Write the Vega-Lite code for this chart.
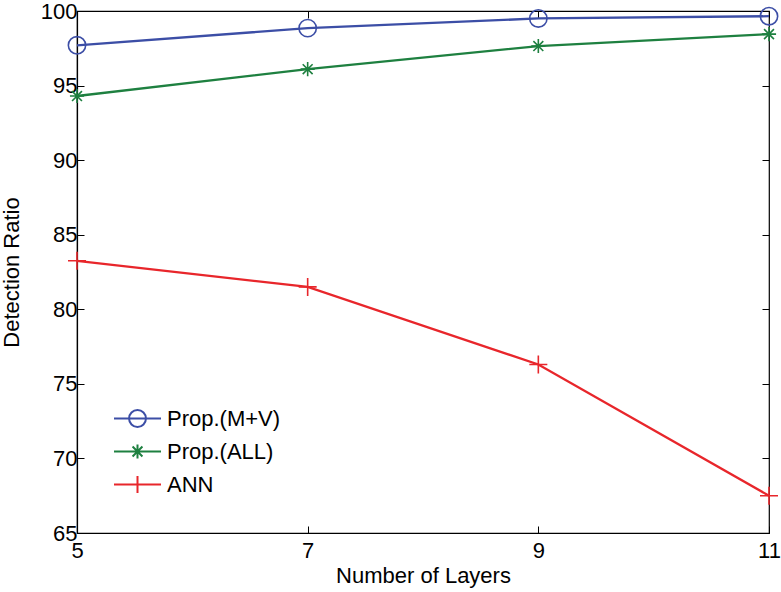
{
  "$schema": "https://vega.github.io/schema/vega-lite/v6.json",
  "autosize": "none",
  "width": 692,
  "height": 522,
  "padding": {"left": 77, "top": 11, "right": 12, "bottom": 59},
  "background": "white",
  "config": {
    "font": "Liberation Sans",
    "view": {"stroke": "black", "strokeWidth": 1.2}
  },
  "data": {"values": [
    {"layers": 5, "ratio": 97.7, "method": "Prop.(M+V)"},
    {"layers": 7, "ratio": 98.85, "method": "Prop.(M+V)"},
    {"layers": 9, "ratio": 99.5, "method": "Prop.(M+V)"},
    {"layers": 11, "ratio": 99.65, "method": "Prop.(M+V)"},
    {"layers": 5, "ratio": 94.3, "method": "Prop.(ALL)"},
    {"layers": 7, "ratio": 96.1, "method": "Prop.(ALL)"},
    {"layers": 9, "ratio": 97.65, "method": "Prop.(ALL)"},
    {"layers": 11, "ratio": 98.45, "method": "Prop.(ALL)"},
    {"layers": 5, "ratio": 83.25, "method": "ANN"},
    {"layers": 7, "ratio": 81.5, "method": "ANN"},
    {"layers": 9, "ratio": 76.3, "method": "ANN"},
    {"layers": 11, "ratio": 67.5, "method": "ANN"}
  ]},
  "encoding": {
    "x": {"field": "layers", "type": "quantitative", "scale": {"domain": [5, 11], "nice": false, "zero": false}, "axis": null},
    "y": {"field": "ratio", "type": "quantitative", "scale": {"domain": [65, 100], "nice": false, "zero": false}, "axis": null}
  },
  "layer": [
    {
      "mark": {"type": "line", "strokeWidth": 2.3},
      "encoding": {
        "x": {"field": "layers", "type": "quantitative",
          "axis": {"values": [5, 7, 9, 11], "title": "Number of Layers", "grid": false, "tickSize": -7, "tickColor": "black", "domainColor": "black", "domainWidth": 1.2, "labelPadding": 14, "labelFontSize": 22, "labelFont": "Liberation Sans", "labelColor": "black", "labelFlush": false, "titleFontSize": 22, "titleFont": "Liberation Sans", "titleFontWeight": "normal", "titleColor": "black", "titlePadding": 4}},
        "y": {"field": "ratio", "type": "quantitative",
          "axis": {"values": [65, 70, 75, 80, 85, 90, 95, 100], "title": "Detection Ratio", "grid": false, "tickSize": -7, "tickColor": "black", "domainColor": "black", "domainWidth": 1.2, "labelPadding": 7, "labelFontSize": 22, "labelFont": "Liberation Sans", "labelColor": "black", "labelFlush": false, "titleFontSize": 22, "titleFont": "Liberation Sans", "titleFontWeight": "normal", "titleColor": "black", "titlePadding": 17}},
        "color": {"field": "method", "type": "nominal",
          "scale": {"domain": ["Prop.(M+V)", "Prop.(ALL)", "ANN"], "range": ["#3c4ea6", "#1e8040", "#e8262b"]},
          "legend": {"title": null, "orient": "none", "legendX": 36, "legendY": 391, "labelFontSize": 22, "labelFont": "Liberation Sans", "labelColor": "black", "symbolSize": 2209, "symbolStrokeWidth": 2, "symbolFillColor": "transparent", "rowPadding": 0, "clipHeight": 33, "labelOffset": 5,
            "symbolType": "M-1,0L1,0",
            "encode": {"symbols": {"update": {"shape": {"signal": "datum.value == 'Prop.(M+V)' ? 'M-1,0L1,0M0.36,0A0.36,0.36,0,1,1,-0.36,0A0.36,0.36,0,1,1,0.36,0Z' : datum.value == 'Prop.(ALL)' ? 'M-1,0L1,0M0,-0.3L0,0.3M-0.21,-0.21L0.21,0.21M-0.21,0.21L0.21,-0.21' : 'M-1,0L1,0M0,-0.36L0,0.36'"}}}}}
        }
      }
    },
    {
      "transform": [{"filter": "datum.method == 'Prop.(M+V)'"}],
      "mark": {"type": "point", "shape": "circle", "filled": false, "stroke": "#3c4ea6", "strokeWidth": 1.6, "size": 300, "opacity": 1}
    },
    {
      "transform": [{"filter": "datum.method == 'Prop.(ALL)'"}],
      "mark": {"type": "point", "shape": "M-1,0L1,0M0,-1L0,1M-0.7,-0.7L0.7,0.7M-0.7,0.7L0.7,-0.7", "filled": false, "stroke": "#1e8040", "strokeWidth": 1.6, "size": 200, "opacity": 1}
    },
    {
      "transform": [{"filter": "datum.method == 'ANN'"}],
      "mark": {"type": "point", "shape": "M-1,0L1,0M0,-1L0,1", "filled": false, "stroke": "#e8262b", "strokeWidth": 1.6, "size": 324, "opacity": 1},
      "encoding": {
        "x": {"field": "layers", "type": "quantitative", "axis": {"orient": "top", "values": [5, 7, 9, 11], "labels": false, "title": null, "domain": false, "grid": false, "tickSize": -7, "tickColor": "black"}},
        "y": {"field": "ratio", "type": "quantitative", "axis": {"orient": "right", "values": [65, 70, 75, 80, 85, 90, 95, 100], "labels": false, "title": null, "domain": false, "grid": false, "tickSize": -7, "tickColor": "black"}}
      }
    }
  ],
  "resolve": {"axis": {"x": "independent", "y": "independent"}}
}
